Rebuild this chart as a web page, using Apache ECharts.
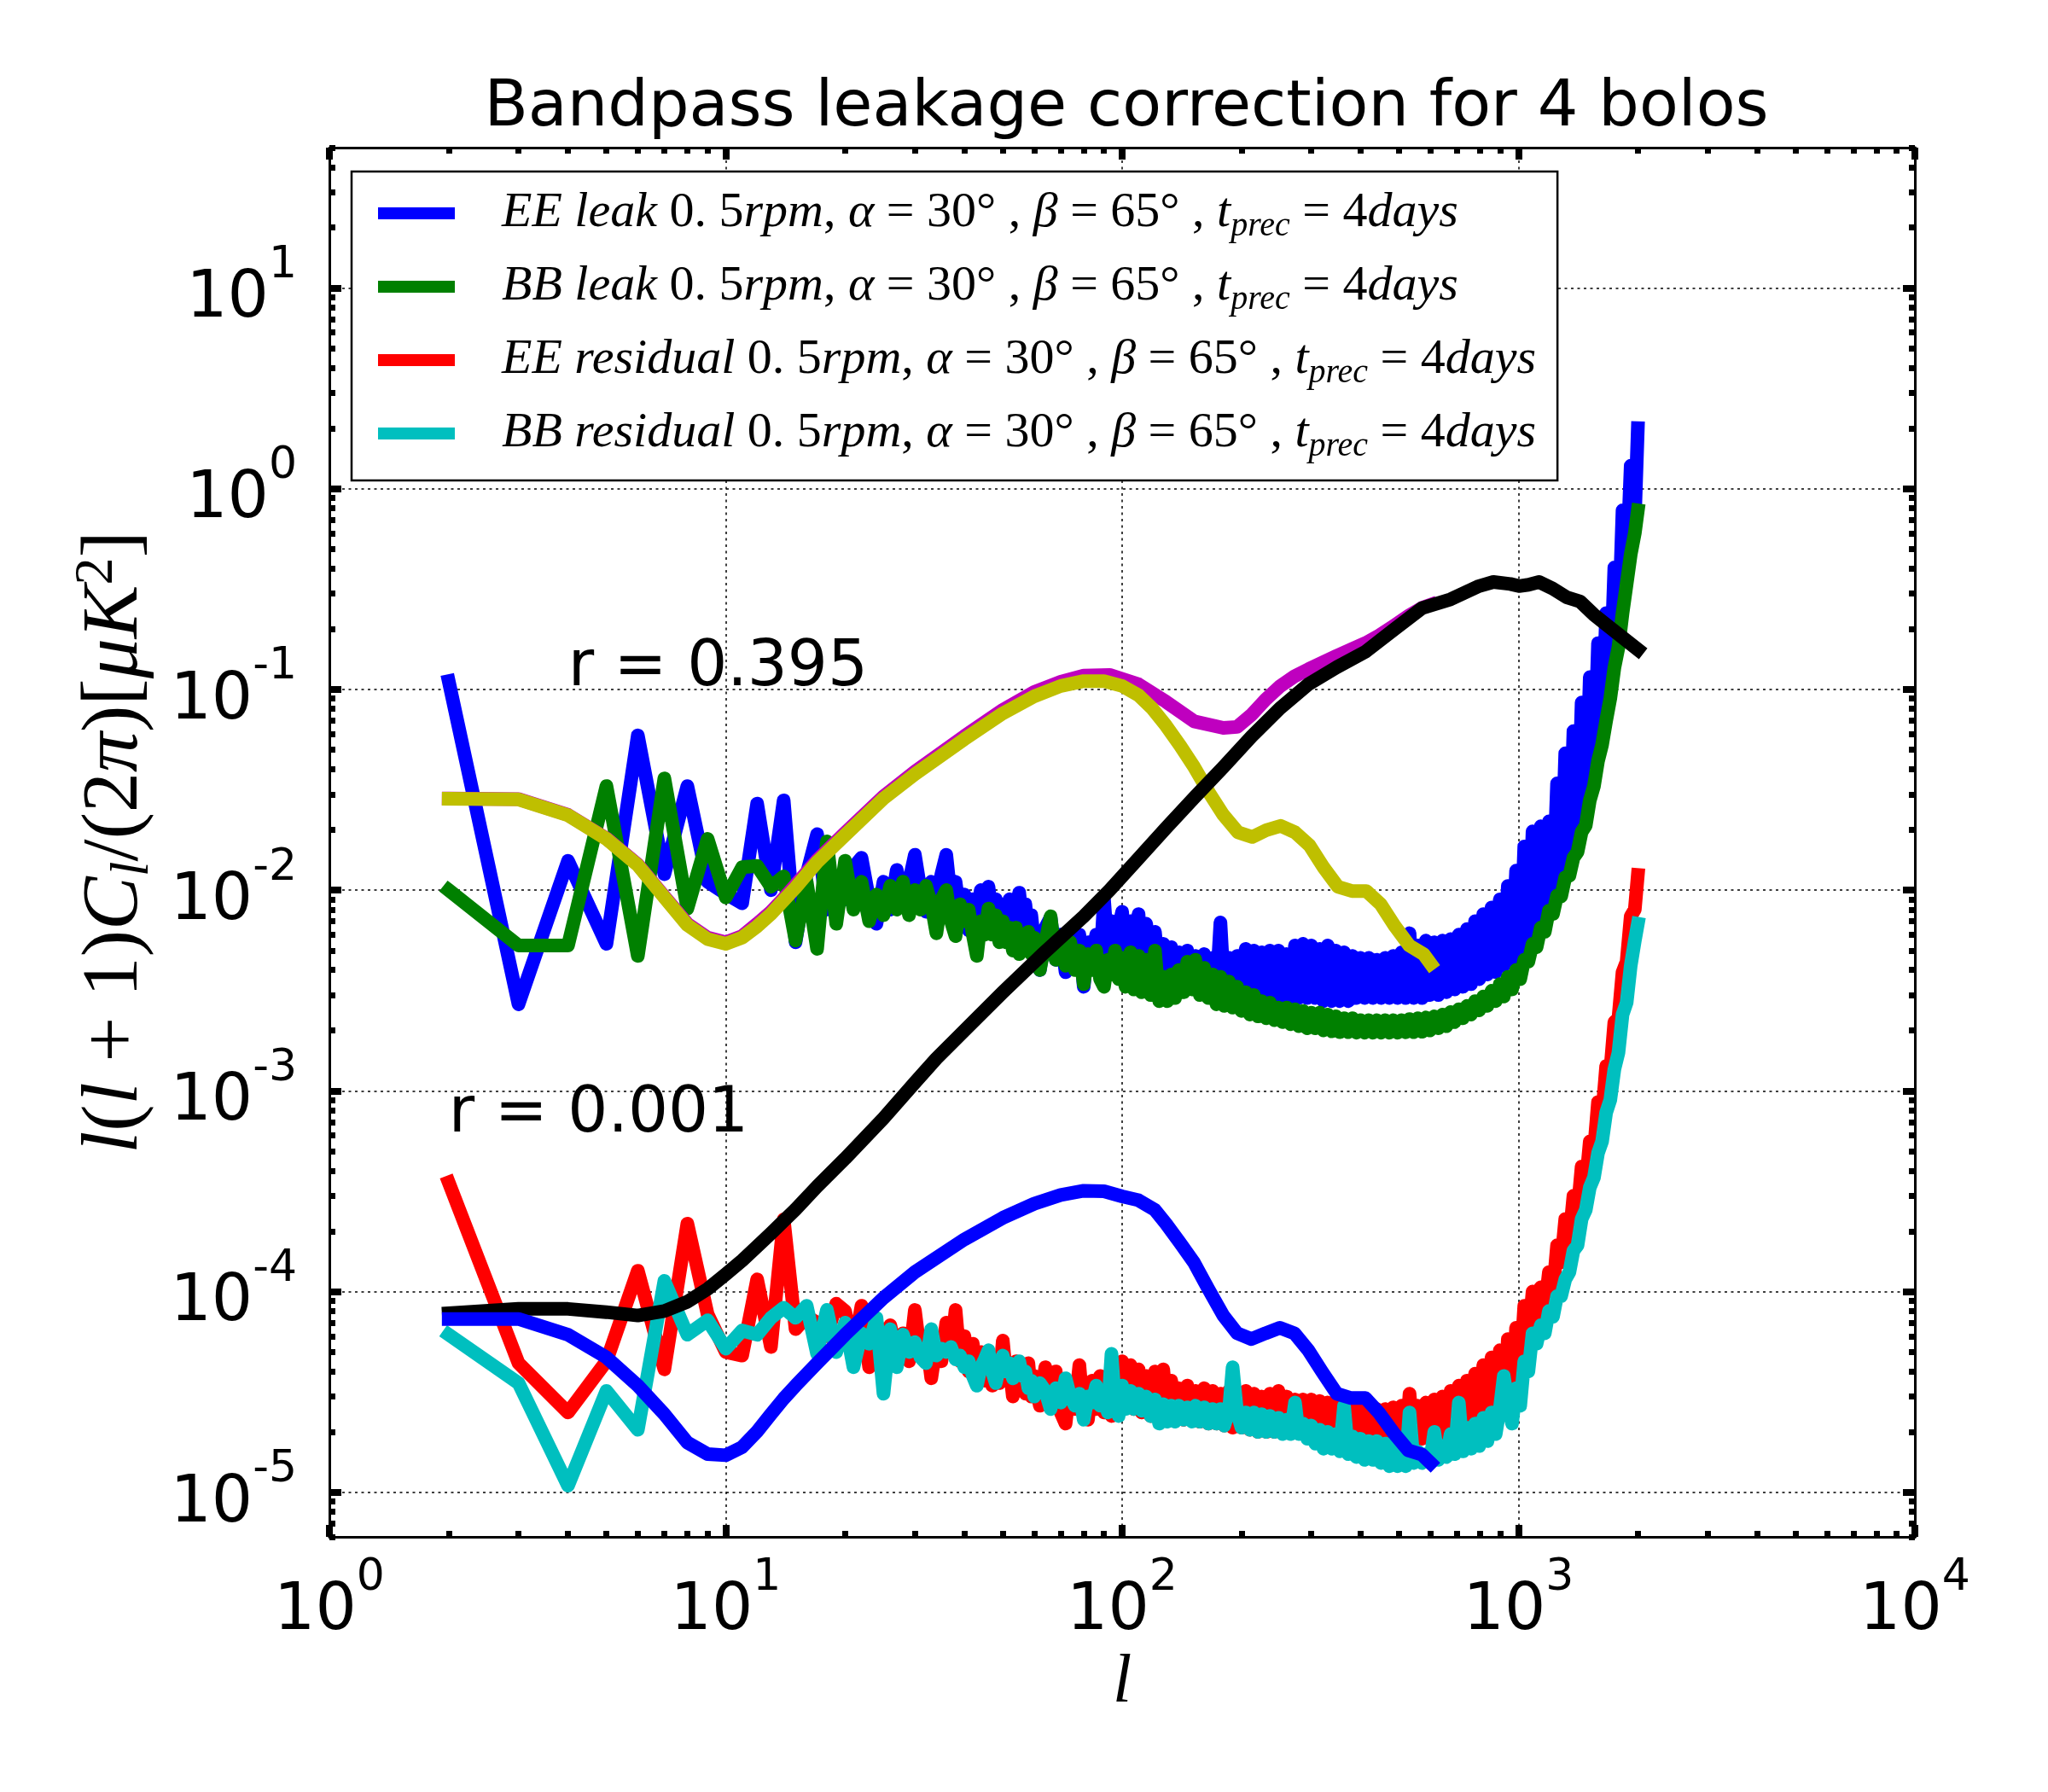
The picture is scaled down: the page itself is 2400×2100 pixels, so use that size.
<!DOCTYPE html>
<html><head><meta charset="utf-8">
<script src="https://cdn.jsdelivr.net/npm/echarts@6/dist/echarts.min.js"></script>
<style>html,body{margin:0;padding:0;background:#fff}#c{width:2400px;height:2100px}</style>
</head><body><div id="c"></div>
<script>
// ---------------- DATA ----------------
const xRange = [1, 1e4];          // multipole range shown
const yRange = [6e-6, 50];        // l(l+1)Cl/2pi range shown
const xTickExps = [0, 1, 2, 3, 4];
const yTickExps = [-5, -4, -3, -2, -1, 0, 1];

// noisy (simulated) spectra: multipoles
const ellLow = [2,3,4,5,6,7,8,9,10,11,12,13,14,15,16,17,18,19,20,21,22,23,24,25,26,27,28,29,30,31,
  32,33,34,35,36,37,38,39,40,41,42,43,44,45,46,47,48,49,50,51,52,53,54,55,56,57,58,59,60,
  62,64,66,68,70,72,74,76,78,80,82,84,86,88,90,92,94,96,98];
const ellHigh = [100,102,105,107,110,112,115,118,121,124,
  127,130,133,136,139,143,146,150,153,157,
  161,165,169,173,177,181,186,190,195,200,
  205,210,215,220,225,231,236,242,248,254,
  260,266,273,279,286,293,300,307,315,322,
  330,338,346,354,363,372,381,390,399,409,
  419,429,439,450,461,472,483,495,507,519,
  531,544,557,571,584,598,613,628,643,658,
  674,690,707,724,741,759,777,796,815,835,
  855,876,897,918,940,963,986,1010,1034,1059,
  1085,1111,1138,1165,1193,1222,1251,1281,1312,1344,
  1376,1409,1443,1478,1513,1550,1587,1625,1664,1704,
  1745,1787,1830,1874,1919,1965,2000];

// leak spectra in units of 1e-3 uK^2
const LEAK_UNIT = 1e-3;
const eeLeakLow = [110,2.7,14,5.4,59,12,33,11,9.6,8.6, 27,10,28,5.5,12,19,8,11,9,13,
  14.5,9,6.8,11,8,12.6,9,11,15,10, 7.8,11,9,12,15,9,11,7.5,9.5,6.3,
  9,7.5,10,8,10.4,7.5,9,6.1,8.5,7, 9,6.5,8,9.7,7,8.5,6,7.5,5.5,
  4.0,6.5,7.3,4.5,6,3.9,5.5,4.5,6,3.3,5.5,4.5,6,4.2,9,5,7,4.5,6.5];
const eeLeakHigh = [7.8,4.2,7.0,4.0,7.6,4.1,6.8,3.9,6.2,3.8,
  5.4,3.6,5.2,3.5,4.9,3.4,5.0,3.3,4.7,3.3,
  4.8,3.2,4.6,3.2,6.9,3.1,4.6,3.1,4.7,3.0,
  5.1,3.0,5.0,3.0,4.9,2.9,5.0,2.9,5.0,2.9,
  4.8,2.9,5.3,2.9,5.4,2.9,5.3,2.9,5.1,2.8,
  5.3,2.8,5.0,2.8,4.9,2.8,4.7,2.9,4.6,2.9,
  4.6,2.9,4.5,2.9,4.6,2.9,4.7,2.9,4.9,2.9,
  6.1,2.9,5.3,2.9,5.6,3.0,5.5,3.0,5.6,3.1,
  5.7,3.2,6.0,3.3,6.4,3.4,7.0,3.6,7.6,3.8,
  8.2,3.9,9.0,4.2,10.5,4.5,12.5,4.6,16.5,5.4,
  19.6,6.3,20.8,7.7,22,9.3,34,11.3,48,14.3,
  62,18.4,86,25,115,39,170,62,240,106,
  405,190,780,390,1300,700,2000];
const bbLeakLow = [10,5.3,5.3,33,4.7,36,8.1,18,9.2,13, 13.2,10.4,11.7,5.6,11,5.1,17.5,6.8,14,8,
  11,7,9.5,7.5,10.5,8,11,7.5,10,8, 10.5,8.5,6.1,9,10,7,5.9,8.5,7,8,
  6,4.7,7,6,8.1,6,7.5,5.5,7,5.5, 6.5,5,6.5,4.8,6,5,6.2,4.8,5.8,
  4.0,5.5,7.4,4.5,5.5,4.2,5.5,4,5,3.4,4.8,4,5,3.6,3.3,4.5,3.8,5,3.6];
const bbLeakHigh = [4.6,3.3,4.9,3.2,4.7,3.1,4.5,3.0,5.0,2.8,
  3.7,2.8,3.8,2.9,4.0,3.1,4.4,3.2,4.5,3.0,
  4.1,2.9,3.8,2.7,3.7,2.65,3.5,2.6,3.3,2.5,
  3.1,2.4,3.0,2.35,2.8,2.3,2.75,2.25,2.6,2.2,
  2.6,2.15,2.55,2.1,2.5,2.05,2.45,2.05,2.45,2.0,
  2.4,1.98,2.35,1.96,2.3,1.96,2.3,1.95,2.25,1.95,
  2.25,1.95,2.25,1.95,2.25,1.95,2.25,1.95,2.25,1.96,
  2.28,1.96,2.3,1.97,2.32,2.0,2.35,2.05,2.4,2.1,
  2.47,2.2,2.55,2.3,2.65,2.4,2.8,2.52,2.95,2.65,
  3.15,2.8,3.4,2.95,3.7,3.2,4.0,3.6,4.5,4.4,
  5.4,5.2,6.5,6.2,7.9,7.6,9.4,9.3,11.6,11.8,
  14.5,15.5,19.5,21,28,33,44,53,70,90,
  128,162,240,335,470,600,780];

// residual spectra in units of 1e-6 uK^2
const RES_UNIT = 1e-6;
const eeResLow = [350,44,25,45,127,41,218,77,50,48, 115,53,229,65,75,70,60,87,80,50,
  85,42,70,55,68,50,62,45,81,48, 60,37,55,45,70,50,81,45,60,40,
  55,38,50,36,48,34,45,35,57,38, 42,30,45,33,40,31,44,30,38,
  27,42,30,40,25,22,35,26,43,24,23,36,26,38,25,36,24,40,30];
const eeResHigh = [45,27,43,26,41,25,38,24,40,24,
  41,24,36,24,33,23,34,23,32,22.5,
  33,22,32,22,31,21.5,32,21,31,21,
  32,20.5,31,20,30,20,31,20,32,20,
  30,20.5,29,21,29,21,29,20,28.5,19.5,
  28,19,27.5,18.5,27,18,27,17.5,26.5,17,
  26.5,16.5,26,16.5,26,16,26.5,16,27,16.5,
  31,17.5,27,18.5,28,19,29,19.5,30,19.5,
  32,20,34,20,36,20.5,39,21,43,22,
  47,23,51,25,58,28,66,40,85,58,
  100,72,105,82,125,100,170,140,230,185,
  300,250,420,340,560,500,880,750,1330,1250,
  2200,2300,3900,4400,7400,8000,11900];
const bbResLow = [61,35,10.8,32,20.5,113,61,72,52,64, 61,74,83,74,85,49,81,50,70,42,
  62,55,74,31,65,42,61,50,56,47, 44,65,48,52,50,53,46,48,42,45,
  38,34,42,46,51,40,35,42,48,40, 44,37,42,45,38,40,33,36,30,
  35,32,26,33,28,37,30,27,31,23,30,28,34,27,30,25,49,28,24];
const bbResHigh = [34,26,32,26,31,25.5,30,24,29,22,
  27.5,22.5,27,22.5,27,23,26.5,22.5,27,22.5,
  26.5,22,26,22,26,21.5,25.5,42,25,21,
  25,20.5,25,20,24.5,20,24,20,23.5,19.5,
  23,19.5,28,19.5,22,18.5,21.5,17.5,20.5,16.5,
  20,16.5,19.5,16,27,15.5,19,15,18.5,14.5,
  18,14.5,18,14,17.5,13.5,17.5,13.5,17,13.5,
  25,14,16,14,15.5,14,20,14.5,17,15,
  19.5,15.5,28,16,21,16.5,22,17,23.5,18,
  25,19.5,26,38,28,22,33,27,45,40,
  62,55,68,62,80,75,95,95,115,125,
  160,170,230,255,330,370,490,560,780,900,
  1280,1550,2400,2750,4200,5600,6800];

// theory: r = 0.395 total BB (magenta)
const ellTot = [2,3,4,5,6,7,8,9,10,11,12,13,14,15,17,20,25,30,40,50,60,70,80,93,
  110,129,152,180,195,212,230,250,272,295,320,348,378,411,446,484,527,571,600];
const totBB = [0.0286,0.0284,0.0237,0.0181,0.0134,0.0093,0.0068,0.0058,0.0055,0.0059,0.0068,0.0078,0.0091,0.0106,
  0.0141,0.0193,0.0293,0.0389,0.0585,0.079,0.097,0.109,0.117,0.118,
  0.106,0.0868,0.0693,0.0643,0.065,0.0747,0.089,0.1035,0.116,0.126,0.136,0.147,0.158,0.17,0.186,0.207,0.232,0.255,0.264];
// theory: r = 0.395 primordial BB (olive)
const ellPrim = [2,3,4,5,6,7,8,9,10,11,12,13,14,15,17,20,25,30,40,50,60,70,80,90,100,
  110,119,129,140,152,166,180,196,213,231,251,273,297,322,350,380,413,449,488,530,576,600];
const primBB395 = [0.0285,0.0283,0.0236,0.018,0.0133,0.0092,0.0067,0.0057,0.0054,0.0058,0.0066,0.0076,0.0089,0.0103,
  0.0138,0.0188,0.0286,0.0378,0.0565,0.076,0.0923,0.104,0.110,0.110,0.104,
  0.0935,0.0805,0.066,0.0526,0.041,0.0304,0.0237,0.0194,0.0184,0.0199,0.0209,0.0194,0.0167,0.013,0.0104,0.0099,0.0099,0.0085,0.0066,0.0053,0.0048,0.0043];
// theory: lensing BB (black)
const ellLens = [2,3,4,5,6,7,8,9,10,11,12,13,14,15,17,20,25,30,34,40,50,63,80,93,
  110,129,152,180,212,250,295,348,411,484,571,674,795,864,954,1003,1060,1127,1220,1321,1430,1548,1676,1814,2000];
const lensBB = [7.8e-5,8.2e-5,8.2e-5,7.9e-5,7.6e-5,8.0e-5,8.9e-5,1.03e-4,1.22e-4,1.43e-4,1.68e-4,1.95e-4,2.25e-4,2.57e-4,
  3.34e-4,4.6e-4,7.3e-4,1.1e-3,1.45e-3,2.0e-3,3.1e-3,4.8e-3,7.4e-3,1.0e-2,
  1.44e-2,2.04e-2,2.89e-2,4.1e-2,5.82e-2,8.05e-2,0.106,0.129,0.154,0.198,0.254,0.281,0.327,0.343,0.335,0.327,0.332,0.343,0.318,0.288,0.274,0.236,0.208,0.184,0.158];
// theory: r = 0.001 primordial BB (blue)
const ellPrim001 = [2,3,4,5,6,7,8,9,10,11,12,13,14,15,17,20,25,30,40,50,60,70,80,90,100,
  110,121,129,140,152,165,180,195,212,230,250,272,295,320,348,378,411,446,484,527,571,600];
const primBB001 = [7.3e-5,7.3e-5,6.1e-5,4.7e-5,3.4e-5,2.45e-5,1.77e-5,1.55e-5,1.53e-5,1.68e-5,2.01e-5,2.45e-5,2.93e-5,3.4e-5,
  4.4e-5,6.1e-5,9.3e-5,1.25e-4,1.82e-4,2.33e-4,2.74e-4,3.03e-4,3.18e-4,3.16e-4,2.98e-4,
  2.85e-4,2.55e-4,2.18e-4,1.75e-4,1.39e-4,1.03e-4,7.6e-5,6.2e-5,5.8e-5,6.2e-5,6.6e-5,6.2e-5,5.1e-5,3.97e-5,3.1e-5,2.95e-5,2.95e-5,2.47e-5,1.98e-5,1.62e-5,1.54e-5,1.4e-5];

const annotations = [
  {text: 'r = 0.395', l: 4, v: 0.1},
  {text: 'r = 0.001', l: 2, v: 6e-4}
];
const legendNames = ['EE leak', 'BB leak', 'EE residual', 'BB residual'];

// ---------------- BUILD ----------------
const L = Math.log10;
const ellNoise = ellLow.concat(ellHigh);
function pts(ells, vals, unit) {
  return ells.map((l, i) => [L(l), L(vals[i] * unit)]);
}
const xExt = [L(xRange[0]), L(xRange[1])];
const yExt = [L(yRange[0]), L(yRange[1])];
function minorTicks(lo, hi) {
  const out = [];
  for (let d = Math.floor(lo) - 1; d <= Math.ceil(hi); d++)
    for (let k = 2; k <= 9; k++) {
      const v = d + L(k);
      if (v >= lo - 1e-9 && v <= hi + 1e-9) out.push(Math.min(Math.max(v, lo), hi));
    }
  return out;
}
const tickRich = {
  b: {fontFamily: 'DejaVu Sans', fontSize: 76, lineHeight: 104, verticalAlign: 'bottom', color: '#000'},
  s: {fontFamily: 'DejaVu Sans', fontSize: 52, lineHeight: 52, verticalAlign: 'top', color: '#000'}
};
function makeAxis(dim, pos, major) {
  const isX = dim === 'x';
  const ext = isX ? xExt : yExt;
  const vals = major ? (isX ? xTickExps : yTickExps) : minorTicks(ext[0], ext[1]);
  const primary = major && (pos === 'bottom' || pos === 'left');
  const ax = {
    type: 'value', position: pos, min: ext[0], max: ext[1], silent: true,
    axisLine: {show: major, onZero: false, lineStyle: {color: '#000', width: 3}},
    axisTick: {show: true, inside: true, customValues: vals, length: major ? 14 : 7,
      lineStyle: {color: '#000', width: major ? 8 : 7}},
    axisLabel: {show: primary, customValues: vals, margin: isX ? 22 : 38,
      formatter: v => '{b|10}{s|' + Math.round(v) + '}', rich: tickRich},
    splitLine: {show: primary, lineStyle: {color: '#000', width: 1.5, type: [3, 4.5]}},
    minorTick: {show: false}, minorSplitLine: {show: false}
  };
  if (isX) ax.interval = 1;
  return ax;
}
const xAxes = [makeAxis('x', 'bottom', true), makeAxis('x', 'bottom', false),
               makeAxis('x', 'top', true), makeAxis('x', 'top', false)];
const yAxes = [makeAxis('y', 'left', true), makeAxis('y', 'left', false),
               makeAxis('y', 'right', true), makeAxis('y', 'right', false)];
const mathFont = 'Liberation Serif';
xAxes[0].name = 'l';
xAxes[0].nameLocation = 'middle';
xAxes[0].nameGap = 132;
xAxes[0].nameTextStyle = {fontFamily: mathFont, fontStyle: 'italic', fontSize: 80, color: '#000'};
yAxes[0].name = '{it|l}{rm|(}{it|l}{rm| + 1)}{it|C}{sub|l}{rm|/(2}{it|π}{rm|)[}{it|μK}{sup|2}{rm|]}';
yAxes[0].nameLocation = 'middle';
yAxes[0].nameRotate = 90;
yAxes[0].nameGap = 174;
yAxes[0].nameTextStyle = {
  color: '#000',
  rich: {
    it: {fontFamily: mathFont, fontStyle: 'italic', fontSize: 94, lineHeight: 106, color: '#000'},
    rm: {fontFamily: mathFont, fontSize: 94, lineHeight: 106, color: '#000'},
    sub: {fontFamily: mathFont, fontStyle: 'italic', fontSize: 64, lineHeight: 64, verticalAlign: 'bottom', color: '#000'},
    sup: {fontFamily: mathFont, fontSize: 64, lineHeight: 64, verticalAlign: 'top', color: '#000'}
  }
};

const LW = 16;
function lineSeries(name, data, color) {
  return {
    name, type: 'line', data, xAxisIndex: 0, yAxisIndex: 0,
    showSymbol: false, symbol: 'none', silent: true, clip: true,
    lineStyle: {color, width: LW, cap: 'square', join: 'round'},
    itemStyle: {color}, emphasis: {disabled: true}
  };
}
const series = [
  lineSeries(legendNames[0], pts(ellNoise, eeLeakLow.concat(eeLeakHigh), LEAK_UNIT), '#0000ff'),
  lineSeries(legendNames[1], pts(ellNoise, bbLeakLow.concat(bbLeakHigh), LEAK_UNIT), '#008000'),
  lineSeries(legendNames[2], pts(ellNoise, eeResLow.concat(eeResHigh), RES_UNIT), '#ff0000'),
  lineSeries(legendNames[3], pts(ellNoise, bbResLow.concat(bbResHigh), RES_UNIT), '#00bfbf'),
  lineSeries('total r=0.395', pts(ellTot, totBB, 1), '#bf00bf'),
  lineSeries('primordial r=0.395', pts(ellPrim, primBB395, 1), '#bfbf00'),
  lineSeries('lensing', pts(ellLens, lensBB, 1), '#000000'),
  lineSeries('primordial r=0.001', pts(ellPrim001, primBB001, 1), '#0000ff'),
  {
    name: 'annotations', type: 'scatter', symbolSize: 0, silent: true,
    itemStyle: {color: '#000', opacity: 1},
    emphasis: {disabled: true},
    data: annotations.map(a => ({value: [L(a.l), L(a.v)], label: {formatter: a.text}})),
    label: {show: true, position: 'right', distance: 0, offset: [0, -24], opacity: 1,
      fontFamily: 'DejaVu Sans', fontSize: 74, color: '#000000', textBorderWidth: 0}
  }
];

const legendRich = {
  it: {fontFamily: mathFont, fontStyle: 'italic', fontSize: 58, lineHeight: 70, color: '#000'},
  rm: {fontFamily: mathFont, fontSize: 58, lineHeight: 70, color: '#000'},
  sub: {fontFamily: mathFont, fontStyle: 'italic', fontSize: 40, lineHeight: 40, verticalAlign: 'bottom', color: '#000'}
};
const option = {
  animation: false,
  backgroundColor: '#fff',
  textStyle: {fontFamily: 'DejaVu Sans'},
  title: {
    text: 'Bandpass leakage correction for 4 bolos', left: 1315, top: 85, textAlign: 'center',
    textStyle: {fontFamily: 'DejaVu Sans', fontSize: 75, fontWeight: 'normal', color: '#000', lineHeight: 75}
  },
  grid: {left: 386, right: 156, top: 173, bottom: 299},
  legend: {
    data: legendNames, orient: 'vertical', left: 412, top: 201,
    padding: [20, 25, 20, 31], itemWidth: 90, itemHeight: 14, itemGap: 22,
    icon: 'rect', selectedMode: false,
    borderColor: '#000', borderWidth: 2.5, backgroundColor: '#fff', borderRadius: 0,
    formatter: name => '{it|' + name + ' }{rm|0. 5}{it|rpm}{rm|, }{it|α}{rm| = 30° , }{it|β}{rm| = 65° , }{it|t}{sub|prec}{rm| = 4}{it|days}',
    textStyle: {padding: [0, 0, 0, 50], rich: legendRich}
  },
  xAxis: xAxes,
  yAxis: yAxes,
  series
};
const chart = echarts.init(document.getElementById('c'), null, {renderer: 'canvas'});
chart.setOption(option);
</script></body></html>
